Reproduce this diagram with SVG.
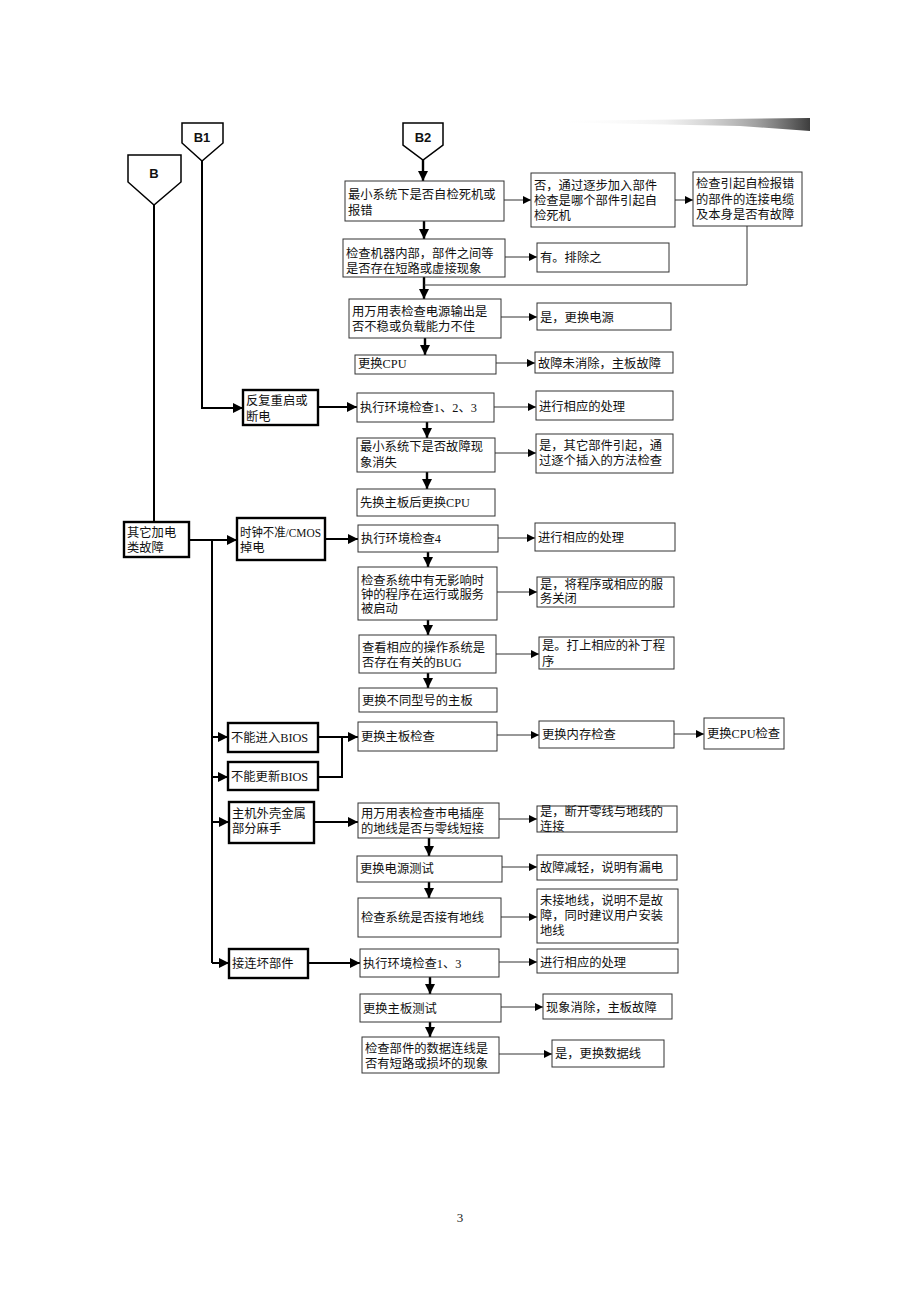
<svg xmlns="http://www.w3.org/2000/svg" width="920" height="1302" viewBox="0 0 920 1302">
<defs>
<style>
.bx{fill:#fff;stroke:#333;stroke-width:1}
.tk{fill:#fff;stroke:#000;stroke-width:2.4}
.t{font-family:"Liberation Serif","Noto Sans CJK SC",serif;font-size:12.3px;fill:#111}
.lb{font-family:"Liberation Sans",Arial,sans-serif;font-size:13px;font-weight:bold;fill:#111;text-anchor:middle}
.v{fill:none;stroke:#000;stroke-width:2.4;marker-end:url(#ab)}
.h{fill:none;stroke:#000;stroke-width:2;marker-end:url(#ab)}
.n{fill:none;stroke:#333;stroke-width:1;marker-end:url(#as)}
.ln{fill:none;stroke:#000;stroke-width:2}
.lt{fill:none;stroke:#333;stroke-width:1}
</style>
<marker id="ab" markerUnits="userSpaceOnUse" markerWidth="12" markerHeight="12" refX="10" refY="5" orient="auto"><path d="M0,0 L10,5 L0,10 Z" fill="#000"/></marker>
<marker id="as" markerUnits="userSpaceOnUse" markerWidth="10" markerHeight="10" refX="8" refY="4" orient="auto"><path d="M0,0 L8,4 L0,8 Z" fill="#000"/></marker>
<linearGradient id="smudge" x1="0" y1="0" x2="1" y2="0"><stop offset="0" stop-color="#fff" stop-opacity="0"/><stop offset="0.45" stop-color="#ddd" stop-opacity="0.4"/><stop offset="0.8" stop-color="#888" stop-opacity="0.8"/><stop offset="1" stop-color="#333" stop-opacity="0.95"/></linearGradient>
</defs>
<rect width="920" height="1302" fill="#fff"/>
<polygon points="545,121 810,118 810,131 740,126 640,124 545,122" fill="url(#smudge)"/>

<g id="connectors">
<path class="ln" d="M154,205 V522" stroke-width="3"/>
<path class="h" d="M202,161 V408 H243"/>
<path class="v" d="M423,160 V181"/>
<path class="v" d="M424,221 V239"/>
<path class="v" d="M424,277 V299"/>
<path class="lt" d="M747,226 V285 H424"/>
<path class="v" d="M425,338 V355"/>
<path class="h" d="M318,407 H357"/>
<path class="v" d="M427,422 V438"/>
<path class="v" d="M427,472 V489"/>
<path class="ln" d="M189,540 H212 V963"/>
<path class="h" d="M212,540 H237"/>
<path class="h" d="M325,539 H358"/>
<path class="v" d="M428,552 V567"/>
<path class="v" d="M428,620 V635"/>
<path class="v" d="M428,673 V688" stroke-width="1.6"/>
<path class="h" d="M212,737 H228"/>
<path class="h" d="M212,777 H228"/>
<path class="h" d="M212,822 H229"/>
<path class="h" d="M212,963 H229"/>
<path class="h" d="M318,737 H358"/>
<path class="ln" d="M318,777 H342 V737"/>
<path class="h" d="M314,822 H358"/>
<path class="v" d="M429,838 V856"/>
<path class="v" d="M429,882 V898"/>
<path class="h" d="M308,963 H360"/>
<path class="v" d="M430,977 V994"/>
<path class="v" d="M430,1022 V1037"/>
<path class="n" d="M504,200 H531"/>
<path class="n" d="M675,200 H693"/>
<path class="n" d="M505,257 H537"/>
<path class="n" d="M501,317 H537"/>
<path class="n" d="M496,363 H535"/>
<path class="n" d="M494,407 H536"/>
<path class="n" d="M495,453 H536"/>
<path class="n" d="M498,538 H535"/>
<path class="n" d="M497,592 H537"/>
<path class="n" d="M496,654 H539"/>
<path class="n" d="M497,735 H539"/>
<path class="n" d="M674,734 H704"/>
<path class="n" d="M499,819 H537"/>
<path class="n" d="M502,867 H537"/>
<path class="n" d="M501,917 H537"/>
<path class="n" d="M499,962 H537"/>
<path class="n" d="M501,1007 H543"/>
<path class="n" d="M499,1054 H552"/>
</g>

<g id="B"><polygon points="128,155 181,155 181,182 154,205 128,182" fill="#fff" stroke="#000" stroke-width="1.5"/><text class="lb" x="154" y="178">B</text></g>
<g id="B1"><polygon points="182,123 223,123 223,143 202,161 182,143" fill="#fff" stroke="#000" stroke-width="1.5"/><text class="lb" x="202" y="142">B1</text></g>
<g id="B2"><polygon points="403,123 443,123 443,145 423,160 403,145" fill="#fff" stroke="#000" stroke-width="1.5"/><text class="lb" x="423" y="142">B2</text></g>

<g id="n1"><rect class="bx" x="345" y="181" width="159" height="40"/><text class="t" x="348" y="199">最小系统下是否自检死机或<tspan x="348" dy="16">报错</tspan></text></g>
<g id="n2"><rect class="bx" x="531" y="173" width="144" height="54"/><text class="t" x="534" y="190">否，通过逐步加入部件<tspan x="534" dy="15">检查是哪个部件引起自</tspan><tspan x="534" dy="15">检死机</tspan></text></g>
<g id="n3"><rect class="bx" x="693" y="172" width="109" height="54"/><text class="t" x="696" y="188">检查引起自检报错<tspan x="696" dy="15.5">的部件的连接电缆</tspan><tspan x="696" dy="15.5">及本身是否有故障</tspan></text></g>
<g id="n4"><rect class="bx" x="343" y="239" width="162" height="38"/><text class="t" x="346" y="258">检查机器内部，部件之间等<tspan x="346" dy="15">是否存在短路或虚接现象</tspan></text></g>
<g id="n5"><rect class="bx" x="537" y="243" width="132" height="29"/><text class="t" x="540" y="262">有。排除之</text></g>
<g id="n6"><rect class="bx" x="349" y="299" width="152" height="39"/><text class="t" x="352" y="316">用万用表检查电源输出是<tspan x="352" dy="15">否不稳或负载能力不佳</tspan></text></g>
<g id="n7"><rect class="bx" x="537" y="303" width="134" height="27"/><text class="t" x="540" y="322">是，更换电源</text></g>
<g id="n8"><rect class="bx" x="355" y="355" width="141" height="19"/><text class="t" x="358" y="368">更换CPU</text></g>
<g id="n9"><rect class="bx" x="535" y="352" width="138" height="21"/><text class="t" x="538" y="368">故障未消除，主板故障</text></g>
<g id="n10"><rect class="tk" x="243" y="390" width="75" height="35"/><text class="t" x="246" y="405">反复重启或<tspan x="246" dy="16">断电</tspan></text></g>
<g id="n11"><rect class="bx" x="357" y="393" width="137" height="29"/><text class="t" x="360" y="412">执行环境检查1、2、3</text></g>
<g id="n12"><rect class="bx" x="536" y="391" width="137" height="29"/><text class="t" x="539" y="411">进行相应的处理</text></g>
<g id="n13"><rect class="bx" x="357" y="438" width="138" height="34"/><text class="t" x="360" y="451">最小系统下是否故障现<tspan x="360" dy="16">象消失</tspan></text></g>
<g id="n14"><rect class="bx" x="536" y="434" width="137" height="39"/><text class="t" x="539" y="450">是，其它部件引起，通<tspan x="539" dy="15">过逐个插入的方法检查</tspan></text></g>
<g id="n15"><rect class="bx" x="357" y="489" width="138" height="27"/><text class="t" x="360" y="507">先换主板后更换CPU</text></g>
<g id="n16"><rect class="tk" x="124" y="522" width="65" height="35"/><text class="t" x="127" y="537">其它加电<tspan x="127" dy="15">类故障</tspan></text></g>
<g id="n17"><rect class="tk" x="237" y="518" width="88" height="42"/><text class="t" x="240" y="537" textLength="81" lengthAdjust="spacingAndGlyphs">时钟不准/CMOS</text><text class="t" x="240" y="552">掉电</text></g>
<g id="n18"><rect class="bx" x="358" y="525" width="140" height="27"/><text class="t" x="361" y="543">执行环境检查4</text></g>
<g id="n19"><rect class="bx" x="535" y="523" width="140" height="28"/><text class="t" x="538" y="542">进行相应的处理</text></g>
<g id="n20"><rect class="bx" x="358" y="567" width="139" height="53"/><text class="t" x="361" y="585">检查系统中有无影响时<tspan x="361" dy="14">钟的程序在运行或服务</tspan><tspan x="361" dy="14">被启动</tspan></text></g>
<g id="n21"><rect class="bx" x="537" y="577" width="137" height="30"/><text class="t" x="540" y="589">是，将程序或相应的服<tspan x="540" dy="14">务关闭</tspan></text></g>
<g id="n22"><rect class="bx" x="359" y="635" width="137" height="38"/><text class="t" x="362" y="652">查看相应的操作系统是<tspan x="362" dy="15">否存在有关的BUG</tspan></text></g>
<g id="n23"><rect class="bx" x="539" y="637" width="135" height="32"/><text class="t" x="542" y="650">是。打上相应的补丁程<tspan x="542" dy="16">序</tspan></text></g>
<g id="n24"><rect class="bx" x="359" y="688" width="138" height="24"/><text class="t" x="362" y="705">更换不同型号的主板</text></g>
<g id="n25"><rect class="tk" x="228" y="723" width="90" height="29"/><text class="t" x="231" y="742">不能进入BIOS</text></g>
<g id="n26"><rect class="tk" x="228" y="762" width="90" height="28"/><text class="t" x="231" y="781">不能更新BIOS</text></g>
<g id="n27"><rect class="bx" x="358" y="722" width="139" height="29"/><text class="t" x="361" y="741">更换主板检查</text></g>
<g id="n28"><rect class="bx" x="539" y="721" width="135" height="27"/><text class="t" x="542" y="739">更换内存检查</text></g>
<g id="n29"><rect class="bx" x="704" y="718" width="80" height="31"/><text class="t" x="707" y="738">更换CPU检查</text></g>
<g id="n30"><rect class="tk" x="229" y="802" width="85" height="41"/><text class="t" x="232" y="818">主机外壳金属<tspan x="232" dy="15">部分麻手</tspan></text></g>
<g id="n31"><rect class="bx" x="358" y="803" width="141" height="35"/><text class="t" x="361" y="818">用万用表检查市电插座<tspan x="361" dy="15">的地线是否与零线短接</tspan></text></g>
<g id="n32"><rect class="bx" x="537" y="806" width="140" height="26"/><text class="t" x="540" y="816">是，断开零线与地线的<tspan x="540" dy="15">连接</tspan></text></g>
<g id="n33"><rect class="bx" x="357" y="856" width="145" height="26"/><text class="t" x="360" y="873">更换电源测试</text></g>
<g id="n34"><rect class="bx" x="537" y="855" width="140" height="25"/><text class="t" x="540" y="872">故障减轻，说明有漏电</text></g>
<g id="n35"><rect class="bx" x="358" y="898" width="143" height="39"/><text class="t" x="361" y="922">检查系统是否接有地线</text></g>
<g id="n36"><rect class="bx" x="537" y="889" width="141" height="54"/><text class="t" x="540" y="905">未接地线，说明不是故<tspan x="540" dy="15">障，同时建议用户安装</tspan><tspan x="540" dy="15">地线</tspan></text></g>
<g id="n37"><rect class="tk" x="229" y="949" width="79" height="29"/><text class="t" x="232" y="968">接连坏部件</text></g>
<g id="n38"><rect class="bx" x="360" y="949" width="139" height="28"/><text class="t" x="363" y="968">执行环境检查1、3</text></g>
<g id="n39"><rect class="bx" x="537" y="949" width="141" height="24"/><text class="t" x="540" y="967">进行相应的处理</text></g>
<g id="n40"><rect class="bx" x="360" y="994" width="141" height="28"/><text class="t" x="363" y="1013">更换主板测试</text></g>
<g id="n41"><rect class="bx" x="543" y="994" width="129" height="25"/><text class="t" x="546" y="1012">现象消除，主板故障</text></g>
<g id="n42"><rect class="bx" x="362" y="1037" width="137" height="36"/><text class="t" x="365" y="1053">检查部件的数据连线是<tspan x="365" dy="15">否有短路或损坏的现象</tspan></text></g>
<g id="n43"><rect class="bx" x="552" y="1040" width="112" height="27"/><text class="t" x="555" y="1058">是，更换数据线</text></g>

<text x="460" y="1222" font-family="Liberation Serif,serif" font-size="13" text-anchor="middle" fill="#222">3</text>
</svg>
